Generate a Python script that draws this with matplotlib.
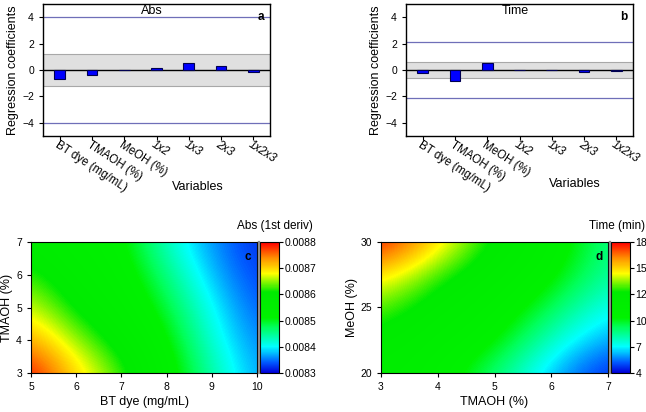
import matplotlib
matplotlib.use("Agg")
import matplotlib.pyplot as plt
import numpy as np
from matplotlib.colors import LinearSegmentedColormap

plt.rcParams['font.family'] = ['Liberation Sans', 'DejaVu Sans']

# --- regression coefficient panels (a, b) ---
variables = ['BT dye (mg/mL)', 'TMAOH (%)', 'MeOH (%)', '1x2', '1x3', '2x3', '1x2x3']
coef_abs = [-0.71, -0.35, 0.0, 0.18, 0.50, 0.28, -0.18]
coef_time = [-0.25, -0.83, 0.56, 0.03, 0.0, -0.18, -0.05]
band_abs = 1.2       # grey significance band
limit_abs = 4.0      # blue lines
band_time = 0.6
limit_time = 2.15

# --- response surfaces (c, d) ---
bt_dye = [5, 6, 7, 8, 9, 10]
tmaoh_c = [3, 4, 5, 6, 7]
abs_deriv = [  # rows: TMAOH 3..7, cols: BT dye 5..10
    [0.008800, 0.008700, 0.008630, 0.008540, 0.008440, 0.008365],
    [0.008730, 0.008650, 0.008590, 0.008520, 0.008415, 0.008355],
    [0.008670, 0.008600, 0.008560, 0.008490, 0.008400, 0.008340],
    [0.008625, 0.008575, 0.008540, 0.008460, 0.008375, 0.008330],
    [0.008590, 0.008550, 0.008525, 0.008425, 0.008360, 0.008320],
]
tmaoh_d = [3, 4, 5, 6, 7]
meoh = [20, 22.5, 25, 27.5, 30]
time_min = [  # rows: MeOH 20..30, cols: TMAOH 3..7
    [11.7, 10.7, 8.6, 6.1, 4.4],
    [12.4, 11.3, 10.2, 7.4, 5.8],
    [13.4, 12.0, 11.0, 9.0, 6.8],
    [15.2, 13.0, 11.7, 10.3, 7.9],
    [18.0, 15.2, 12.4, 11.0, 8.2],
]
cbar_c_ticks = [0.0083, 0.0084, 0.0085, 0.0086, 0.0087, 0.0088]
cbar_d_labels = ['4', '7', '10', '12', '15', '18']

cmap = LinearSegmentedColormap.from_list('surf', [
    (0.00, (0.0, 0.0, 0.85)),
    (0.08, (0.0, 0.35, 1.0)),
    (0.20, (0.0, 1.0, 1.0)),
    (0.35, (0.0, 1.0, 0.35)),
    (0.42, (0.0, 0.95, 0.0)),
    (0.62, (0.0, 0.92, 0.0)),
    (0.76, (1.0, 1.0, 0.0)),
    (0.88, (1.0, 0.55, 0.0)),
    (1.00, (1.0, 0.0, 0.0)),
])

fig = plt.figure(figsize=(6.46, 4.12), dpi=100)
W, H = 646, 412


def box(l, t, r, b):
    return [l / W, 1 - b / H, (r - l) / W, (b - t) / H]


def coef_panel(rect, coefs, band, limit, title, letter, xlab_x, xlab_y):
    ax = fig.add_axes(rect)
    x = np.arange(len(variables))
    ax.axhspan(-band, band, facecolor='#e0e0e0', edgecolor='#a8a8a8', lw=0.8, zorder=0)
    ax.axhline(limit, color='#6f6fb8', lw=0.9, zorder=1)
    ax.axhline(-limit, color='#6f6fb8', lw=0.9, zorder=1)
    ax.axhline(0, color='black', lw=1.0, zorder=2)
    ax.bar(x, coefs, width=0.33, color='#0000ff', edgecolor='#000050', lw=0.8, zorder=3)
    ax.set_xlim(-0.52, len(variables) - 0.48)
    ax.set_ylim(-5, 5)
    ax.set_yticks([-4, -2, 0, 2, 4])
    ax.set_yticklabels(['\u22124', '\u22122', '0', '2', '4'])
    ax.set_xticks(x)
    ax.set_xticklabels([])
    for i, lab in enumerate(variables):
        style = 'italic' if i >= 3 else 'normal'
        ax.text(i - 0.12, -5.6, lab, rotation=-33, rotation_mode='anchor',
                ha='left', va='center', fontsize=8.3, style=style)
    ax.tick_params(direction='out', length=3, labelsize=7.5, width=0.8)
    ax.set_ylabel('Regression coefficients', fontsize=9, labelpad=2)
    ax.text(0.48, 0.99, title, transform=ax.transAxes, ha='center', va='top', fontsize=9)
    ax.text(0.975, 0.95, letter, transform=ax.transAxes, ha='right', va='top',
            fontsize=8.5, fontweight='bold')
    ax.text(xlab_x, xlab_y, 'Variables', transform=ax.transAxes, ha='center',
            va='center', fontsize=9)
    for s in ax.spines.values():
        s.set_linewidth(1.0)
    return ax


coef_panel(box(43, 4, 270, 136), coef_abs, band_abs, limit_abs, 'Abs', 'a', 0.68, -0.39)
coef_panel(box(406, 4, 633, 136), coef_time, band_time, limit_time, 'Time', 'b', 0.745, -0.36)


def surf_panel(rect, crect, xs, ys, Z, vmin, vmax, xlabel, ylabel, letter, clabel, clabel_x):
    ax = fig.add_axes(rect)
    dx = (xs[1] - xs[0]) / 2
    dy = (ys[1] - ys[0]) / 2
    m = ax.imshow(np.array(Z), origin='lower', aspect='auto', cmap=cmap,
                  vmin=vmin, vmax=vmax, interpolation='bicubic',
                  interpolation_stage='data',
                  extent=[xs[0] - dx, xs[-1] + dx, ys[0] - dy, ys[-1] + dy])
    ax.set_xlim(xs[0], xs[-1])
    ax.set_ylim(ys[0], ys[-1])
    ax.tick_params(direction='out', length=3, labelsize=7.5, width=0.8)
    ax.set_xlabel(xlabel, fontsize=9, labelpad=3)
    ax.set_ylabel(ylabel, fontsize=9, labelpad=2)
    ax.text(0.975, 0.93, letter, transform=ax.transAxes, ha='right', va='top',
            fontsize=8.5, fontweight='bold')
    cax = fig.add_axes(crect)
    cb = fig.colorbar(m, cax=cax)
    cb.outline.set_linewidth(0.8)
    cax.tick_params(direction='out', length=3, labelsize=7.5, width=0.8, pad=1)
    fig.text(clabel_x, 1 - 226 / H, clabel, ha='right', va='center', fontsize=8.5)
    # grey strip between map and colour bar
    fig.add_artist(plt.Line2D([crect[0] - 0.6 / W] * 2, [crect[1], crect[1] + crect[3]],
                              color='#8a8a8a', lw=1.6, transform=fig.transFigure))
    return ax, cb


ax_c, cb_c = surf_panel(box(31, 242, 257, 373), box(260, 242, 279, 373), bt_dye, tmaoh_c,
                        abs_deriv, 0.0083, 0.0088, 'BT dye (mg/mL)', 'TMAOH (%)', 'c',
                        'Abs (1st deriv)', 313 / W)
ax_c.set_xticks(bt_dye)
ax_c.set_yticks(tmaoh_c)
cb_c.set_ticks(cbar_c_ticks)
cb_c.set_ticklabels([f'{t:.4f}' for t in cbar_c_ticks])

ax_d, cb_d = surf_panel(box(381, 242, 608, 373), box(611, 242, 630, 373), tmaoh_d, meoh,
                        time_min, 4, 18, 'TMAOH (%)', 'MeOH (%)', 'd',
                        'Time (min)', 645 / W)
ax_d.set_xticks(tmaoh_d)
ax_d.set_yticks([20, 25, 30])
cb_d.set_ticks(np.linspace(4, 18, len(cbar_d_labels)))
cb_d.set_ticklabels(cbar_d_labels)

fig.savefig('out.png', dpi=100)
